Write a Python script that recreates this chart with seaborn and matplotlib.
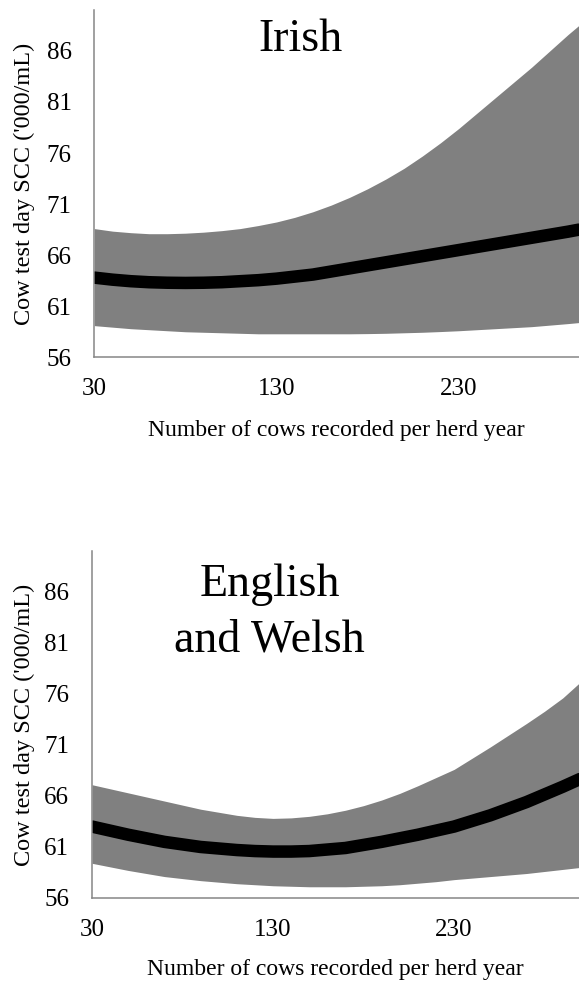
import matplotlib
matplotlib.use("Agg")
import matplotlib.pyplot as plt
import pandas as pd
import seaborn as sns

# Irish herds: cows recorded per herd year vs test day SCC ('000/mL)
irish_x = [30, 40, 50, 60, 70, 80, 90, 100, 110, 120, 130, 140, 150, 160,
           170, 180, 190, 200, 210, 220, 230, 240, 250, 260, 270, 280, 290, 296]
irish_mean = [63.8, 63.6, 63.45, 63.35, 63.3, 63.28, 63.3, 63.35, 63.45, 63.55,
              63.7, 63.9, 64.1, 64.4, 64.7, 65.0, 65.3, 65.6, 65.9, 66.2,
              66.5, 66.8, 67.1, 67.4, 67.7, 68.0, 68.3, 68.5]
irish_upper = [68.6, 68.35, 68.2, 68.1, 68.1, 68.15, 68.25, 68.4, 68.6, 68.9,
               69.25, 69.7, 70.25, 70.9, 71.65, 72.5, 73.45, 74.5, 75.7, 77.0,
               78.4, 79.9, 81.4, 82.9, 84.4, 86.0, 87.6, 88.5]
irish_lower = [59.1, 58.95, 58.8, 58.7, 58.6, 58.5, 58.45, 58.4, 58.35, 58.3,
               58.3, 58.3, 58.3, 58.3, 58.3, 58.32, 58.35, 58.4, 58.45, 58.52,
               58.6, 58.7, 58.8, 58.9, 59.0, 59.15, 59.3, 59.4]

# English and Welsh herds
ew_x = [30, 40, 50, 60, 70, 80, 90, 100, 110, 120, 130, 140, 150, 160,
        170, 180, 190, 200, 210, 220, 230, 240, 250, 260, 270, 280, 290, 300]
ew_mean = [63.0, 62.6, 62.2, 61.85, 61.5, 61.25, 61.0, 60.85, 60.7, 60.6,
           60.55, 60.55, 60.6, 60.75, 60.9, 61.2, 61.5, 61.85, 62.2, 62.6,
           63.0, 63.55, 64.1, 64.75, 65.4, 66.15, 66.9, 67.7]
ew_upper = [67.1, 66.7, 66.3, 65.9, 65.5, 65.1, 64.7, 64.4, 64.1, 63.9,
            63.8, 63.85, 64.0, 64.25, 64.6, 65.05, 65.6, 66.25, 67.0, 67.8,
            68.6, 69.7, 70.8, 71.95, 73.1, 74.3, 75.6, 77.2]
ew_lower = [59.4, 59.05, 58.7, 58.4, 58.1, 57.9, 57.7, 57.55, 57.4, 57.3,
            57.2, 57.15, 57.1, 57.1, 57.1, 57.15, 57.2, 57.3, 57.45, 57.6,
            57.8, 57.95, 58.1, 58.25, 58.4, 58.6, 58.8, 59.0]

y_ticks = [56, 61, 66, 71, 76, 81, 86]
x_ticks = [30, 130, 230]

sns.set_style('white')
plt.rcParams['font.family'] = ['Liberation Serif', 'DejaVu Serif']
plt.rcParams['text.color'] = 'black'
plt.rcParams['axes.labelcolor'] = 'black'

axis_grey = '#868686'
band_grey = '#808080'

fig = plt.figure(figsize=(5.79, 9.83), dpi=100)
ax_top = fig.add_axes([94.3 / 579, (983 - 357.3) / 983, (579 - 94.3) / 579, 347.3 / 983])
ax_bot = fig.add_axes([92 / 579, (983 - 898) / 983, (579 - 92) / 579, 347 / 983])


def draw_panel(ax, xs, mean, lower, upper, title, title_xy, x_max, ylab_x, xlab_y):
    df = pd.DataFrame({'herd': xs, 'scc': mean, 'lo': lower, 'hi': upper})
    ax.fill_between(df['herd'], df['lo'], df['hi'], color=band_grey, linewidth=0)
    sns.lineplot(data=df, x='herd', y='scc', ax=ax, color='black', linewidth=9)
    ax.set_xlim(30, x_max)
    ax.set_ylim(56, 90)
    ax.set_xticks(x_ticks)
    ax.set_yticks(y_ticks)
    ax.tick_params(axis='both', labelsize=18, direction='out', length=5.8, width=1.1,
                   color=axis_grey, labelcolor='black')
    ax.tick_params(axis='y', pad=10.5)
    ax.tick_params(axis='x', pad=9)
    ax.set_xlabel('Number of cows recorded per herd year', size=17)
    ax.set_ylabel("Cow test day SCC ('000/mL)", size=17.5)
    ax.xaxis.label.set_va('center')
    ax.xaxis.set_label_coords(0.5, xlab_y)
    ax.yaxis.set_label_coords(ylab_x, 0.5)
    # va='baseline' puts the last line of the title on title_xy
    ax.text(title_xy[0], title_xy[1], title, size=33, ha='center', va='baseline',
            linespacing=1.37)
    sns.despine(ax=ax)
    for side in ['left', 'bottom']:
        ax.spines[side].set_color(axis_grey)
        ax.spines[side].set_linewidth(1.1)


draw_panel(ax_top, irish_x, irish_mean, irish_lower, irish_upper, 'Irish',
           (143, 86.0), 296, -0.122, -0.212)
draw_panel(ax_bot, ew_x, ew_mean, ew_lower, ew_upper, 'English\nand Welsh',
           (128, 80.2), 299, -0.117, -0.205)

fig.savefig('out.png', dpi=100)
